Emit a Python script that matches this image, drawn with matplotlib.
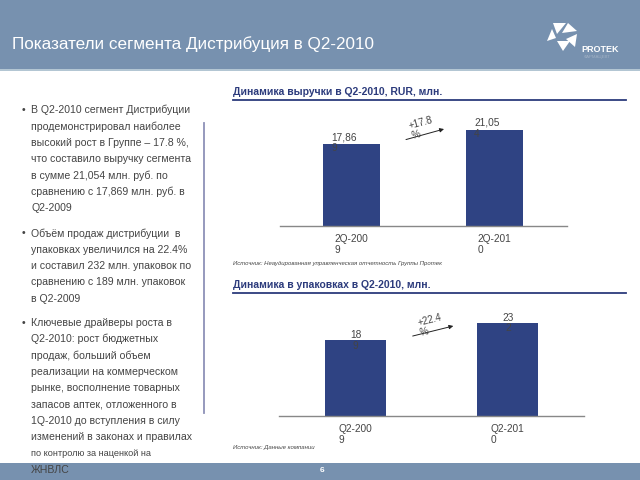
import matplotlib
matplotlib.use("Agg")
import matplotlib.pyplot as plt
from matplotlib.patches import Polygon, Rectangle

plt.rcParams['font.family'] = ['Liberation Sans', 'DejaVu Sans']

# ---------------- data ----------------
rev_categories = ["2Q-200\n9", "2Q-201\n0"]
rev_values = [17869, 21054]
rev_labels = ["17,86\n9", "21,05\n4"]
rev_growth = "+17.8\n%"

pack_categories = ["Q2-200\n9", "Q2-201\n0"]
pack_values = [189, 232]
pack_labels = ["18\n9", "23\n2"]
pack_growth = "+22.4\n%"

title = "Показатели сегмента Дистрибуция в Q2-2010"
chart1_title = "Динамика выручки в Q2-2010, RUR, млн."
chart2_title = "Динамика в упаковках в Q2-2010, млн."
source1 = "Источник: Неаудированная управленческая отчетность Группы Протек"
source2 = "Источник: Данные компании"

bullets = [
    ["В Q2-2010 сегмент Дистрибуции", "продемонстрировал наиболее",
     "высокий рост в Группе – 17.8 %,", "что составило выручку сегмента",
     "в сумме 21,054 млн. руб. по", "сравнению с 17,869 млн. руб. в", "Q2-2009"],
    ["Объём продаж дистрибуции  в", "упаковках увеличился на 22.4%",
     "и составил 232 млн. упаковок по", "сравнению с 189 млн. упаковок", "в Q2-2009"],
    ["Ключевые драйверы роста в", "Q2-2010: рост бюджетных", "продаж, больший объем",
     "реализации на коммерческом", "рынке, восполнение товарных",
     "запасов аптек, отложенного в", "1Q-2010 до вступления в силу",
     "изменений в законах и правилах", "по контролю за наценкой на", "ЖНВЛС"],
]
bullet_starts = [110, 233.3, 322.7]

BAND = '#7791AF'
BAR = '#2F4383'
NAVY = '#2C3B7C'
TXT = '#444444'

W, H = 640, 480
fig = plt.figure(figsize=(6.4, 4.8), dpi=100)

# background overlay axes in pixel coordinates
bg = fig.add_axes([0, 0, 1, 1], zorder=0)
bg.set_xlim(0, W)
bg.set_ylim(H, 0)
bg.axis('off')

# header band
bg.add_patch(Rectangle((0, 0), W, 68.5, color=BAND, lw=0))
bg.add_patch(Rectangle((0, 68.5), W, 2.5, color='#B3C6D3', lw=0))
bg.text(12, 44, title, color='white', fontsize=12.3, va='center', ha='left')

# logo
tris = [
    [(553, 23), (566, 23), (557, 34)],
    [(568, 23), (577, 31), (562, 33)],
    [(577, 34), (575, 47), (566, 39)],
    [(563, 51), (557, 41), (570, 41)],
    [(547, 41), (552, 29), (556, 38)],
]
for t in tris:
    bg.add_patch(Polygon(t, closed=True, color='white', lw=0))
bg.text(581, 49.5, "PROTEK", color='white', fontsize=6.5, fontweight='bold',
        va='center', ha='left')
bg.text(584, 57, "ФАРМАЦЕВТ", color='#9FB0C4', fontsize=3.2, va='center', ha='left')

# footer band
bg.add_patch(Rectangle((0, 462.5), W, H - 462.5, color=BAND, lw=0))
bg.text(322, 470.5, "6", color='white', fontsize=6, fontweight='bold', ha='center', va='center')

# left text
for start, lines in zip(bullet_starts, bullets):
    bg.text(23, start, "•", color=TXT, fontsize=7.6, ha='center', va='center')
    for i, line in enumerate(lines):
        fs = 6.6 if line.startswith("по контролю") else 7.6
        bg.text(31, start + i * 16.35, line, color=TXT, fontsize=fs, ha='left', va='center')

# vertical separator
bg.plot([203.5, 203.5], [122.5, 413], color='#8E91B8', lw=1.3)

# chart titles + underline
bg.text(233, 92, chart1_title, color=NAVY, fontsize=7.5, fontweight='bold', ha='left', va='center')
bg.plot([233, 626], [100, 100], color=NAVY, lw=1.3)
bg.text(233, 285, chart2_title, color=NAVY, fontsize=7.5, fontweight='bold', ha='left', va='center')
bg.plot([233, 626], [292.7, 292.7], color=NAVY, lw=1.3)

# sources
bg.text(233, 264, source1, color=TXT, fontsize=4.3, style='italic', ha='left', va='center')
bg.text(233, 447.7, source2, color=TXT, fontsize=4.3, style='italic', ha='left', va='center')


def make_axes(left, right, top, bottom):
    return fig.add_axes([left / W, 1 - bottom / H, (right - left) / W, (bottom - top) / H], zorder=1)


def style(ax):
    ax.patch.set_alpha(0)
    for s in ['top', 'right', 'left']:
        ax.spines[s].set_visible(False)
    ax.spines['bottom'].set_color('#888888')
    ax.spines['bottom'].set_linewidth(1.0)
    ax.set_yticks([])
    ax.tick_params(axis='x', length=0, pad=6, labelsize=7.3, labelcolor=TXT)


# chart 1
ax1 = make_axes(280, 567, 110, 226)
x = range(len(rev_values))
ax1.bar(x, rev_values, width=0.4, color=BAR)
ax1.set_xlim(-0.5, 1.51)
ax1.set_ylim(0, 116 * 219)
style(ax1)
ax1.set_xticks(list(x))
ax1.set_xticklabels(rev_categories, ha='center', multialignment='left', linespacing=1.1, va='top')
for i, (v, lab) in enumerate(zip(rev_values, rev_labels)):
    ax1.annotate(lab, xy=(i, v), xytext=(-20, 12), textcoords='offset pixels',
                 ha='left', va='top', fontsize=7.3, color=TXT, linespacing=1.1)

# chart 2
ax2 = make_axes(279.3, 584, 300, 416)
x2 = range(len(pack_values))
ax2.bar(x2, pack_values, width=0.4, color=BAR)
ax2.set_xlim(-0.5, 1.5)
ax2.set_ylim(0, 116 * 2.485)
style(ax2)
ax2.set_xticks(list(x2))
ax2.set_xticklabels(pack_categories, ha='center', multialignment='left', linespacing=1.1, va='top')
for i, (v, lab) in enumerate(zip(pack_values, pack_labels)):
    ax2.annotate(lab, xy=(i, v), xytext=(0, 10), textcoords='offset pixels',
                 ha='center', va='top', fontsize=7.3, color=TXT, linespacing=1.1)

# growth arrows (pixel coords on overlay)
top = fig.add_axes([0, 0, 1, 1], zorder=2)
top.set_xlim(0, W)
top.set_ylim(H, 0)
top.axis('off')
top.annotate("", xy=(446.7, 128.3), xytext=(403.3, 140.3),
             arrowprops=dict(arrowstyle='-|>', color='#222222', lw=0.7, mutation_scale=6))
top.text(413, 141, rev_growth, rotation=15, rotation_mode='anchor', fontsize=7,
         color=TXT, ha='left', va='bottom', multialignment='left', linespacing=1.0)
top.annotate("", xy=(456, 325.3), xytext=(410, 336.7),
             arrowprops=dict(arrowstyle='-|>', color='#222222', lw=0.7, mutation_scale=6))
top.text(421, 338, pack_growth, rotation=14, rotation_mode='anchor', fontsize=7,
         color=TXT, ha='left', va='bottom', multialignment='left', linespacing=1.0)

fig.savefig("out.png", dpi=100)
